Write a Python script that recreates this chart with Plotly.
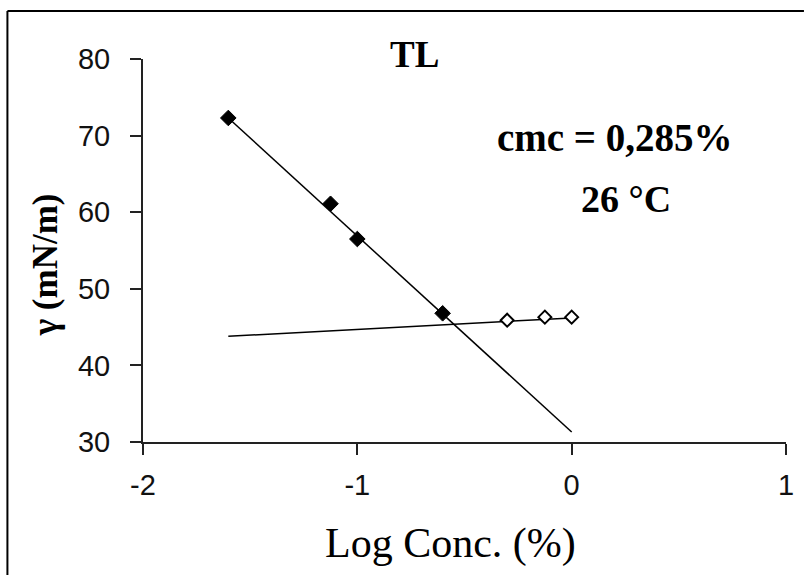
import plotly.graph_objects as go

# ---- data ----
log_conc_below = [-1.602, -1.125, -1.0, -0.602]   # filled diamonds
gamma_below = [72.3, 61.1, 56.5, 46.8]
log_conc_above = [-0.301, -0.125, 0.0]             # open diamonds
gamma_above = [45.9, 46.3, 46.3]

trend1_x = [-1.602, 0.0]
trend1_y = [72.3, 31.3]
trend2_x = [-1.602, 0.0]
trend2_y = [43.8, 46.2]

x_ticks = [-2, -1, 0, 1]
x_tick_text = ["-2", "-1", "0", "1"]
y_ticks = [30, 40, 50, 60, 70, 80]

W, H = 806, 575
L, R, T, B = 143, 788, 59, 442  # plot-area pixel box


def px(x):
    return (x - L) / (R - L)


def py(y):
    return (B - y) / (B - T)


fig = go.Figure()
fig.add_trace(go.Scatter(x=trend1_x, y=trend1_y, mode="lines",
                         line=dict(color="black", width=1.5), hoverinfo="skip"))
fig.add_trace(go.Scatter(x=trend2_x, y=trend2_y, mode="lines",
                         line=dict(color="black", width=1.5), hoverinfo="skip"))
fig.add_trace(go.Scatter(x=log_conc_below, y=gamma_below, mode="markers",
                         marker=dict(symbol="diamond", size=12, color="black",
                                     line=dict(color="black", width=1))))
fig.add_trace(go.Scatter(x=log_conc_above, y=gamma_above, mode="markers",
                         marker=dict(symbol="diamond", size=10, color="white",
                                     line=dict(color="black", width=2))))

serif = "Liberation Serif, Times New Roman, serif"
sans = "Liberation Sans, Arial, sans-serif"

axis_common = dict(showgrid=False, zeroline=False, showline=True,
                   linecolor="#222", linewidth=2, ticks="outside",
                   ticklen=11, tickwidth=2, tickcolor="#222",
                   tickfont=dict(family=sans, size=29, color="#111"))

fig.update_layout(
    width=W, height=H,
    margin=dict(l=L, r=W - R, t=T, b=H - B, pad=0),
    paper_bgcolor="white", plot_bgcolor="white",
    showlegend=False,
    xaxis=dict(range=[-2, 1], tickvals=x_ticks, ticktext=x_tick_text,
               ticklabelstandoff=5, **axis_common),
    yaxis=dict(range=[30, 80], tickvals=y_ticks, ticklabelstandoff=14, **axis_common),
    shapes=[
        dict(type="line", xref="paper", yref="paper", x0=px(7), y0=py(11),
             x1=px(806), y1=py(11), line=dict(color="black", width=2)),
        dict(type="line", xref="paper", yref="paper", x0=px(7), y0=py(11),
             x1=px(7), y1=py(575), line=dict(color="black", width=2)),
    ],
    annotations=[
        dict(text="<b>TL</b>", xref="paper", yref="paper", x=px(415), y=py(55),
             showarrow=False, xanchor="center", yanchor="middle",
             font=dict(family=serif, size=37, color="black")),
        dict(text="<b>cmc = 0,285%</b>", xref="paper", yref="paper", x=px(616), y=py(137),
             showarrow=False, xanchor="center", yanchor="middle",
             font=dict(family=serif, size=39, color="black")),
        dict(text="<b>26 °C</b>", xref="paper", yref="paper", x=px(628), y=py(199),
             showarrow=False, xanchor="center", yanchor="middle",
             font=dict(family=serif, size=38, color="black")),
        dict(text="Log Conc. (%)", xref="paper", yref="paper", x=px(451), y=py(543),
             showarrow=False, xanchor="center", yanchor="middle",
             font=dict(family=serif, size=42, color="black")),
        dict(text="<b>γ (mN/m)</b>", xref="paper", yref="paper", x=px(45), y=py(265),
             showarrow=False, xanchor="center", yanchor="middle", textangle=-90,
             font=dict(family=serif, size=35, color="black")),
    ],
)

fig.write_html("out.html")
